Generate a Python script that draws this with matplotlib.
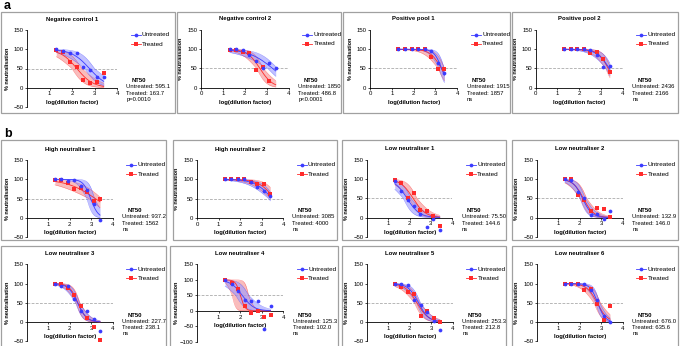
import numpy as np
import matplotlib
matplotlib.use("Agg")
import matplotlib.pyplot as plt
from matplotlib.patches import Rectangle
from matplotlib.transforms import offset_copy

plt.rcParams['font.family'] = ['Liberation Sans', 'DejaVu Sans']

# ---------------- data ----------------
dilutions = [20, 40, 80, 160, 320, 640, 1280, 2560]

titles = ["Negative control 1", "Negative control 2", "Positive pool 1", "Positive pool 2",
          "High neutraliser 1", "High neutraliser 2", "Low neutraliser 1", "Low neutraliser 2",
          "Low neutraliser 3", "Low neutraliser 4", "Low neutraliser 5", "Low neutraliser 6"]

nan = np.nan
untreated = [
    [100, 96.5, 89, 89, 53, 47, 28, 28],
    [100, 100, 97, 84, 70, 51, 64, 50],
    [100, 100, 100, 100, 100, 96, 63, 39],
    [100, 100, 100, 100, 99, 85, 54, 57],
    [100, 100, 96, 97, 84, 73, 36, -5],
    [100, 100, 100, 100, 94, 81, 70, 58],
    [96, 70, 47, 30, 10, -25, -5, -33],
    [100, 98, 66, 50, 6, 9, -5, 17],
    [100, 94, 94, 61, 29, 28, 7, -24],
    [100, 86, 63, 34, 33, 33, -58, 15],
    [100, 100, 95, 57, 43, 25, 4, -21],
    [100, 100, 100, 98, 83, 57, 17, 0],
]
treated = [
    [98, 94, 67, 53, 21, 12, 16, 39],
    [98, 98, 93, 90, 46, 54, 17, nan],
    [100, 100, 100, 100, 100, 81, 48, 48],
    [100, 100, 100, 100, 91, 92, 74, 42],
    [99, 99, 90, 75, 78, 67, 43, 50],
    [100, 100, 100, 100, 92, 89, 87, 63],
    [98, 91, 52, 63, 20, 18, 3, -23],
    [100, 100, 60, 45, 16, 26, 23, 1],
    [100, 98, 88, 70, 42, 11, -12, -47],
    [100, 90, 72, 15, -6, 0, -20, -14],
    [98, 92, 78, 72, 16, 30, 10, 0],
    [100, 100, 100, 83, 87, 46, 5, 41],
]

nt50_untreated = ["595.1", "1850", "1915", "2436", "937.2", "3085",
                  "75.50", "132.9", "227.7", "125.3", "253.3", "676.0"]
nt50_treated = ["163.7", "486.8", "1857", "2166", "1562", "4000",
                "144.6", "146.0", "238.1", "102.0", "212.8", "635.6"]
p_labels = ["p=0.0010", "p<0.0001", "ns", "ns", "ns", "ns",
            "ns", "ns", "ns", "ns", "ns", "ns"]

# fitted hill slopes and CI half widths (log units)
hill_untreated = [1.1, 0.8, 2.5, 1.5, 2.5, 1.1, 1.5, 2.0, 2.0, 1.6, 1.8, 2.5]
hill_treated = [1.2, 1.5, 1.7, 1.8, 0.65, 1.2, 1.5, 1.8, 2.2, 4.0, 1.6, 1.8]
ci_untreated = [0.22, 0.22, 0.12, 0.15, 0.18, 0.15, 0.18, 0.12, 0.09, 0.30, 0.09, 0.09]
ci_treated = [0.22, 0.15, 0.15, 0.12, 0.30, 0.18, 0.18, 0.15, 0.09, 0.38, 0.12, 0.15]

ymins = [-50, 0, 0, 0, -50, 0, -50, -50, -50, -100, -50, -50]

# ---------------- layout (pixels) ----------------
W, H = 685, 346
boxes = [(1, 12, 175, 113), (177, 12, 341, 113), (343, 12, 510, 113), (512, 12, 678, 113),
         (1, 140, 166, 240), (173, 140, 337, 240), (342, 140, 506, 240), (512, 140, 678, 240),
         (1, 246, 166, 352), (170, 246, 338, 352), (342, 246, 506, 352), (512, 246, 678, 352)]
axes_px = [(27, 117, 30, 107), (201, 288.7, 30, 87.7), (370, 457.3, 30, 87.7), (535.7, 622.7, 30, 87.7),
           (27, 112.7, 160, 237.3), (197, 283, 160, 218), (367, 452.3, 160, 236.7), (537, 622.7, 160, 236.7),
           (27, 112.7, 264.3, 341.3), (197, 283.3, 264.3, 342), (367, 452.7, 264.3, 341.3), (537, 622.7, 264.3, 341.3)]

BLUE = "#3b3bff"
RED = "#ff2b2b"
BLUE_FILL = "#9a9aff"
RED_FILL = "#f59090"
PT = 72.0 / 100.0  # points per pixel


def logistic(x, c, h):
    return 100.0 / (1.0 + 10 ** ((x - c) * h))


fig = plt.figure(figsize=(W / 100, H / 100), dpi=100)
fig.patch.set_facecolor("white")

fig.text(4 / W, 1 - 6 / H, "a", fontsize=9, fontweight="bold", va="center", ha="left")
fig.text(4 / W, 1 - 134 / H, "b", fontsize=9, fontweight="bold", va="center", ha="left")

xs = np.log10(np.array(dilutions, dtype=float))

for i in range(12):
    bx0, by0, bx1, by1 = boxes[i]
    fig.add_artist(Rectangle((bx0 / W, 1 - by1 / H), (bx1 - bx0) / W, (by1 - by0) / H,
                             transform=fig.transFigure, fill=False, edgecolor="#a0a0a0",
                             linewidth=0.9))
    x0, x1, yt, yb = axes_px[i]
    ax = fig.add_axes([x0 / W, 1 - yb / H, (x1 - x0) / W, (yb - yt) / H])
    ax.set_facecolor("none")
    ymin = ymins[i]
    ax.set_xlim(0, 4)
    ax.set_ylim(ymin, 150)
    for s in ("top", "right"):
        ax.spines[s].set_visible(False)
    ax.spines["bottom"].set_position(("data", 0))
    ax.spines["left"].set_linewidth(0.6)
    ax.spines["bottom"].set_linewidth(0.6)
    ax.set_yticks(np.arange(ymin, 151, 50))
    if ymin < 0:
        ax.set_xticks([1, 2, 3, 4])
    else:
        ax.set_xticks([0, 1, 2, 3, 4])
    ax.tick_params(axis="both", direction="out", length=1.6, width=0.5, labelsize=4.3, pad=1)

    ax.axhline(50, color="#9a9a9a", linewidth=0.5, linestyle=(0, (4, 2)), zorder=1)

    xfit = np.linspace(np.nanmin(xs), np.nanmax(xs), 200)
    series = [
        (treated[i], nt50_treated[i], hill_treated[i], ci_treated[i], RED, RED_FILL, "s"),
        (untreated[i], nt50_untreated[i], hill_untreated[i], ci_untreated[i], BLUE, BLUE_FILL, "o"),
    ]
    for vals, nt, h, d, col, fcol, mk in series:
        c = np.log10(float(nt))
        curves = []
        for dc in (-d, 0, d):
            for fh in (0.75, 1.0, 1.3):
                curves.append(logistic(xfit, c + dc, h * fh))
        curves = np.array(curves)
        lo, hi = curves.min(axis=0), curves.max(axis=0)
        ax.fill_between(xfit, lo, hi, color=fcol, alpha=0.6, linewidth=0, zorder=2)
        ax.plot(xfit, lo, color=col, linewidth=0.3, alpha=0.6, zorder=3)
        ax.plot(xfit, hi, color=col, linewidth=0.3, alpha=0.6, zorder=3)
        ax.plot(xfit, logistic(xfit, c, h), color=col, linewidth=0.6, zorder=4)
    for vals, nt, h, d, col, fcol, mk in series:
        ax.plot(xs, vals, linestyle="none", marker=mk, markersize=2.7, color=col,
                markeredgewidth=0, zorder=5, clip_on=False)

    # title and axis labels
    ax.annotate(titles[i], xy=(0.5, 1), xycoords="axes fraction",
                xytext=(0, 11 * PT), textcoords="offset points",
                ha="center", va="center", fontsize=4.3, fontweight="bold")
    ax.annotate("log(dilution factor)", xy=(2, 0), xycoords="data",
                xytext=(0, -14.5 * PT), textcoords="offset points",
                ha="center", va="center", fontsize=4.2, fontweight="bold")
    ax.annotate("% neutralisation", xy=(0, 0.5), xycoords="axes fraction",
                xytext=(-20 * PT, 0), textcoords="offset points", rotation=90,
                ha="center", va="center", fontsize=4.0, fontweight="bold")

    # legend
    for k, (lab, col, mk) in enumerate([("Untreated", BLUE, "o"), ("Treated", RED, "s")]):
        yoff = -(5 + 9 * k)
        tr = offset_copy(ax.transAxes, fig=fig, x=0, y=yoff * PT, units="points")
        xa = 1 + 13.5 / (x1 - x0)
        xm = 1 + 18.5 / (x1 - x0)
        xb = 1 + 23.5 / (x1 - x0)
        ax.plot([xa, xm, xb], [1, 1, 1], transform=tr, color=col, linewidth=0.6,
                marker=mk, markevery=[1], markersize=2.7, markeredgewidth=0, clip_on=False)
        ax.annotate(lab, xy=(1, 1), xycoords="axes fraction",
                    xytext=(25 * PT, yoff * PT), textcoords="offset points",
                    ha="left", va="center", fontsize=4.6)

    # NT50 block
    ax.annotate("NT50", xy=(1, 1), xycoords="axes fraction",
                xytext=(14.5 * PT, -51 * PT), textcoords="offset points",
                ha="left", va="center", fontsize=4.3, fontweight="bold")
    lines = ["Untreated: " + nt50_untreated[i], "Treated: " + nt50_treated[i], p_labels[i]]
    for k, t in enumerate(lines):
        ax.annotate(t, xy=(1, 1), xycoords="axes fraction",
                    xytext=(9.5 * PT, -(57 + 6.3 * k) * PT), textcoords="offset points",
                    ha="left", va="center", fontsize=4.2)

fig.savefig("out.png", dpi=100, facecolor="white")
